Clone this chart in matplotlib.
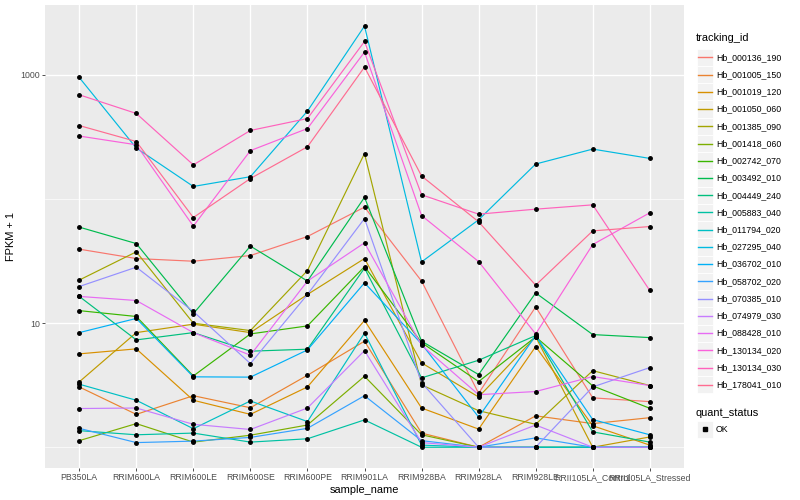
import numpy as np
import matplotlib.pyplot as plt
from matplotlib.patches import Rectangle

plt.rcParams['font.family'] = ['Liberation Sans', 'DejaVu Sans']

samples = ['PB350LA', 'RRIM600LA', 'RRIM600LE', 'RRIM600SE', 'RRIM600PE', 'RRIM901LA',
           'RRIM928BA', 'RRIM928LA', 'RRIM928LE', 'RRII105LA_Control', 'RRII105LA_Stressed']

tracking_ids = ['Hb_000136_190', 'Hb_001005_150', 'Hb_001019_120', 'Hb_001050_060',
                'Hb_001385_090', 'Hb_001418_060', 'Hb_002742_070', 'Hb_003492_010',
                'Hb_004449_240', 'Hb_005883_040', 'Hb_011794_020', 'Hb_027295_040',
                'Hb_036702_010', 'Hb_058702_020', 'Hb_070385_010', 'Hb_074979_030',
                'Hb_088428_010', 'Hb_130134_020', 'Hb_130134_030', 'Hb_178041_010']

# ggplot default hue palette, 20 levels
colors = ['#F8766D', '#EA8331', '#D89000', '#C09B00', '#A3A500', '#7CAE00', '#39B600',
          '#00BB4E', '#00BF7D', '#00C1A3', '#00BFC4', '#00BAE0', '#00B0F6', '#35A2FF',
          '#9590FF', '#C77CFF', '#E76BF3', '#FA62DB', '#FF62BC', '#FF6C91']

# FPKM + 1, one value per sample
hb_000136_190 = [39.4, 33.1, 31.5, 35.0, 49.8, 85.9, 21.8, 2.72, 13.5, 2.50, 2.33]
hb_001005_150 = [3.06, 1.84, 2.60, 2.08, 3.80, 7.15, 1.30, 1.0, 1.79, 1.55, 1.73]
hb_001019_120 = [5.65, 6.20, 2.39, 1.84, 3.06, 10.5, 2.07, 1.40, 6.47, 1.49, 1.04]
hb_001050_060 = [3.36, 8.38, 9.80, 8.38, 17.0, 33.1, 4.78, 2.54, 7.74, 1.0, 1.21]
hb_001385_090 = [22.2, 37.5, 9.98, 8.70, 26.5, 232, 3.18, 1.97, 1.53, 4.14, 3.14]
hb_001418_060 = [1.13, 1.55, 1.10, 1.25, 1.51, 3.73, 1.26, 1.0, 1.0, 1.0, 1.0]
hb_002742_070 = [12.6, 11.3, 3.75, 8.18, 9.49, 28.5, 6.96, 3.38, 7.74, 3.12, 2.06]
hb_003492_010 = [59.3, 43.7, 11.9, 41.7, 21.8, 103, 7.15, 3.85, 17.5, 8.08, 7.64]
hb_004449_240 = [16.4, 7.32, 8.38, 5.94, 6.16, 27.7, 3.62, 5.02, 7.93, 1.33, 1.10]
hb_005883_040 = [1.36, 1.26, 1.30, 1.10, 1.17, 1.66, 1.0, 1.0, 1.0, 1.0, 1.0]
hb_011794_020 = [3.22, 2.39, 1.41, 2.36, 1.61, 8.29, 1.04, 1.0, 1.0, 1.0, 1.0]
hb_027295_040 = [951, 257, 126, 151, 510, 2468, 31.1, 67.9, 191, 252, 212]
hb_036702_010 = [8.38, 10.9, 3.69, 3.67, 6.08, 21.1, 6.80, 1.75, 7.93, 1.67, 1.26]
hb_058702_020 = [1.42, 1.09, 1.12, 1.20, 1.42, 2.60, 1.13, 1.0, 1.19, 1.0, 1.0]
hb_070385_010 = [19.7, 28.2, 12.4, 4.72, 17.0, 69.5, 3.32, 1.0, 1.0, 3.06, 4.38]
hb_074979_030 = [2.05, 2.07, 1.53, 1.39, 2.07, 6.00, 1.09, 1.0, 1.51, 1.0, 1.0]
hb_088428_010 = [16.4, 15.2, 8.38, 5.51, 21.8, 44.3, 6.64, 2.65, 2.81, 3.71, 3.14]
hb_130134_020 = [321, 273, 60.4, 245, 369, 1524, 73.5, 31.3, 8.18, 42.9, 77.3]
hb_130134_030 = [690, 488, 188, 356, 444, 1854, 108, 75.4, 82.7, 89.6, 18.3]
hb_178041_010 = [390, 290, 70.8, 146, 263, 1153, 153, 65.4, 20.2, 55.3, 59.9]

series = [hb_000136_190, hb_001005_150, hb_001019_120, hb_001050_060, hb_001385_090,
          hb_001418_060, hb_002742_070, hb_003492_010, hb_004449_240, hb_005883_040,
          hb_011794_020, hb_027295_040, hb_036702_010, hb_058702_020, hb_070385_010,
          hb_074979_030, hb_088428_010, hb_130134_020, hb_130134_030, hb_178041_010]

fig = plt.figure(figsize=(8, 5), dpi=100)
ax = fig.add_axes([45 / 800, 1 - 468.3 / 500, 639 / 800, 463.3 / 500])
ax.set_facecolor('#EBEBEB')

x = np.arange(1, len(samples) + 1)
for vals, col in zip(series, colors):
    ax.plot(x, vals, color=col, lw=0.85, zorder=3)
for vals in series:
    ax.plot(x, vals, 'o', color='black', ms=2.5, zorder=4)

ax.set_yscale('log')
allv = np.log10(np.concatenate([np.array(s, float) for s in series]))
lo, hi = allv.min(), allv.max()
pad = 0.05 * (hi - lo)
ax.set_ylim(10 ** (lo - pad), 10 ** (hi + pad))
ax.set_xlim(0.4, len(samples) + 0.6)

ax.set_yticks([10, 1000])
ax.set_yticklabels(['10', '1000'])
ax.set_yticks([1, 100], minor=True)
ax.set_yticklabels(['', ''], minor=True)
ax.set_xticks(x)
ax.set_xticklabels(samples)

ax.grid(True, which='major', color='white', lw=1.0, zorder=0)
ax.grid(True, which='minor', axis='y', color='white', lw=0.5, zorder=0)
ax.set_axisbelow(True)
for s in ax.spines.values():
    s.set_visible(False)
ax.tick_params(which='major', length=2.2, width=0.6, color='#333333',
               labelsize=6.3, labelcolor='#4D4D4D', pad=1.5)
ax.tick_params(which='minor', length=0)

ax.set_xlabel('sample_name', fontsize=7.9, labelpad=1.5)
ax.set_ylabel('FPKM + 1', fontsize=7.9, labelpad=3)

# legend drawn in pixel coordinates, ggplot style
leg = fig.add_axes([0, 0, 1, 1], facecolor='none')
leg.set_xlim(0, 800)
leg.set_ylim(500, 0)
leg.axis('off')

step = 17.24
leg.text(696, 38, 'tracking_id', fontsize=7.9, va='center', ha='left')
for i, (name, col) in enumerate(zip(tracking_ids, colors)):
    yc = 57.3 + i * step
    leg.add_patch(Rectangle((696.5, yc - step / 2), 16.5, step, facecolor='#F2F2F2',
                            edgecolor='white', lw=0.6))
    leg.plot([698, 711.5], [yc, yc], color=col, lw=1.0)
    leg.text(716.5, yc, name, fontsize=6.3, va='center', ha='left')

leg.text(696, 412.5, 'quant_status', fontsize=7.9, va='center', ha='left')
leg.add_patch(Rectangle((696.5, 421), 16.5, 16.5, facecolor='#F2F2F2', edgecolor='white', lw=0.6))
leg.plot([704.8], [429.3], 's', color='black', ms=2.4)
leg.text(716, 429.3, 'OK', fontsize=6.3, va='center', ha='left')

fig.savefig('out.png', dpi=100)
